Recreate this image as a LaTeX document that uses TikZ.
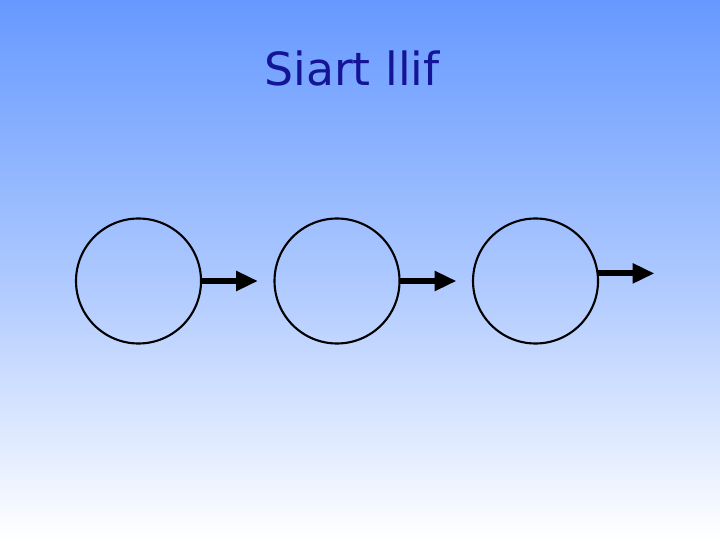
\documentclass[tikz,border=0pt]{standalone}
\usepackage{fontspec}
\setmainfont{DejaVu Sans}
\usetikzlibrary{arrows.meta, positioning}
\definecolor{skyblue}{RGB}{102, 153, 255}
\definecolor{titleblue}{RGB}{20, 20, 150}

\begin{document}
\begin{tikzpicture}[
    node distance=0.735cm,
    stage/.style={draw, circle, semithick, minimum size=1.25cm, inner sep=0pt, outer sep=0pt},
    flow/.style={-{Triangle[length=0.22cm, width=0.19cm]}, line width=0.06cm},
    heading/.style={font=\fontsize{13}{15}\selectfont, text=titleblue}
]

% Background
\shade[top color=skyblue, bottom color=white, middle color=skyblue!55] (0,0) rectangle (7.2,5.4);
\useasboundingbox (0,0) rectangle (7.2,5.4);

% Title
\node[heading] (title) at (3.52,4.72) {Siart llif};

% Stages
\node[stage] (s1) at (1.385,2.59) {};
\node[stage, right=of s1] (s2) {};
\node[stage, right=of s2] (s3) {};

% Free ends
\coordinate[right=0.57cm of s1.east] (e1);
\coordinate[right=0.57cm of s2.east] (e2);
\coordinate[right=0.57cm of s3.7] (e3);

% Arrows
\draw[flow] (s1.east) -- (e1);
\draw[flow] (s2.east) -- (e2);
\draw[flow] (s3.7) -- (e3);

\end{tikzpicture}
\end{document}
